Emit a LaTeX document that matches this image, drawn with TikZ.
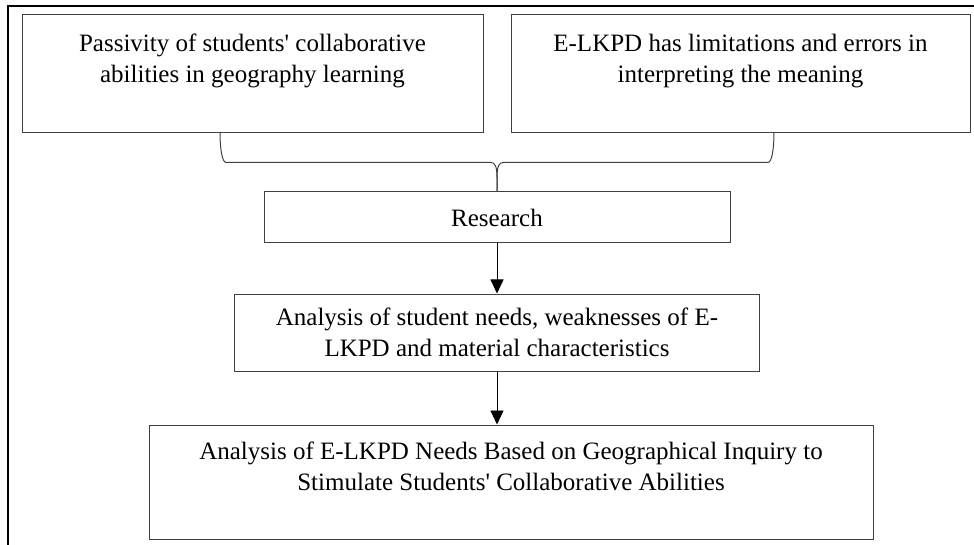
\documentclass[tikz,border=0pt]{standalone}
\usepackage{fontspec}
\setmainfont{Liberation Serif}
\usetikzlibrary{positioning,arrows.meta}

\begin{document}
\begin{tikzpicture}[
    x=1pt, y=-1pt,
    node distance=50pt,
    block/.style={rectangle, draw=black!75, line width=1pt, align=center, inner sep=4pt,
        font=\fontsize{25}{31}\selectfont},
    line/.style={draw=black!75, line width=1pt},
    arrow/.style={draw=black, line width=0.9pt, -{Triangle[length=14pt,width=13pt]}}
]
    \useasboundingbox (0,0) rectangle (974,545);
    \draw[line width=2pt] (974,6) -- (8,6) -- (8,545);

    \node[block, minimum width=461pt, minimum height=118pt] (passive) at (252.5,74)
        {Passivity of students\textquotesingle{} collaborative\\abilities in geography learning\\ \mbox{}};
    \node[block, right=27pt of passive, minimum width=459pt, minimum height=118pt] (limits)
        {E-LKPD has limitations and errors in\\interpreting the meaning\\ \mbox{}};
    \node[block, minimum width=466pt, minimum height=51pt] (research) at (497,217.5) {Research};
    \node[block, below=of research, minimum width=525pt, minimum height=77pt] (needs)
        {Analysis of student needs, weaknesses of E-\\LKPD and material characteristics};
    \node[block, below=53pt of needs, xshift=14pt, minimum width=724pt, minimum height=114pt] (inquiry)
        {Analysis of E-LKPD Needs Based on Geographical Inquiry to\\Stimulate Students\textquotesingle{} Collaborative Abilities\\ \mbox{}};

    % brace from the two problems down to the research box
    \draw[line] (research.north) -- ++(0,-14) .. controls +(0,-11) and +(4,0) .. ++(-6,-15)
        -- ++(-265,0) .. controls +(-4,0) and +(0,15) .. ++(-6,-30);
    \draw[line] (research.north) -- ++(0,-14) .. controls +(0,-11) and +(-4,0) .. ++(6,-15)
        -- ++(265,0) .. controls +(4,0) and +(0,15) .. ++(6,-30);

    \draw[arrow] (research.south) -- (research.south |- needs.north);
    \draw[arrow] (needs.south) -- (needs.south |- inquiry.north);
\end{tikzpicture}
\end{document}
